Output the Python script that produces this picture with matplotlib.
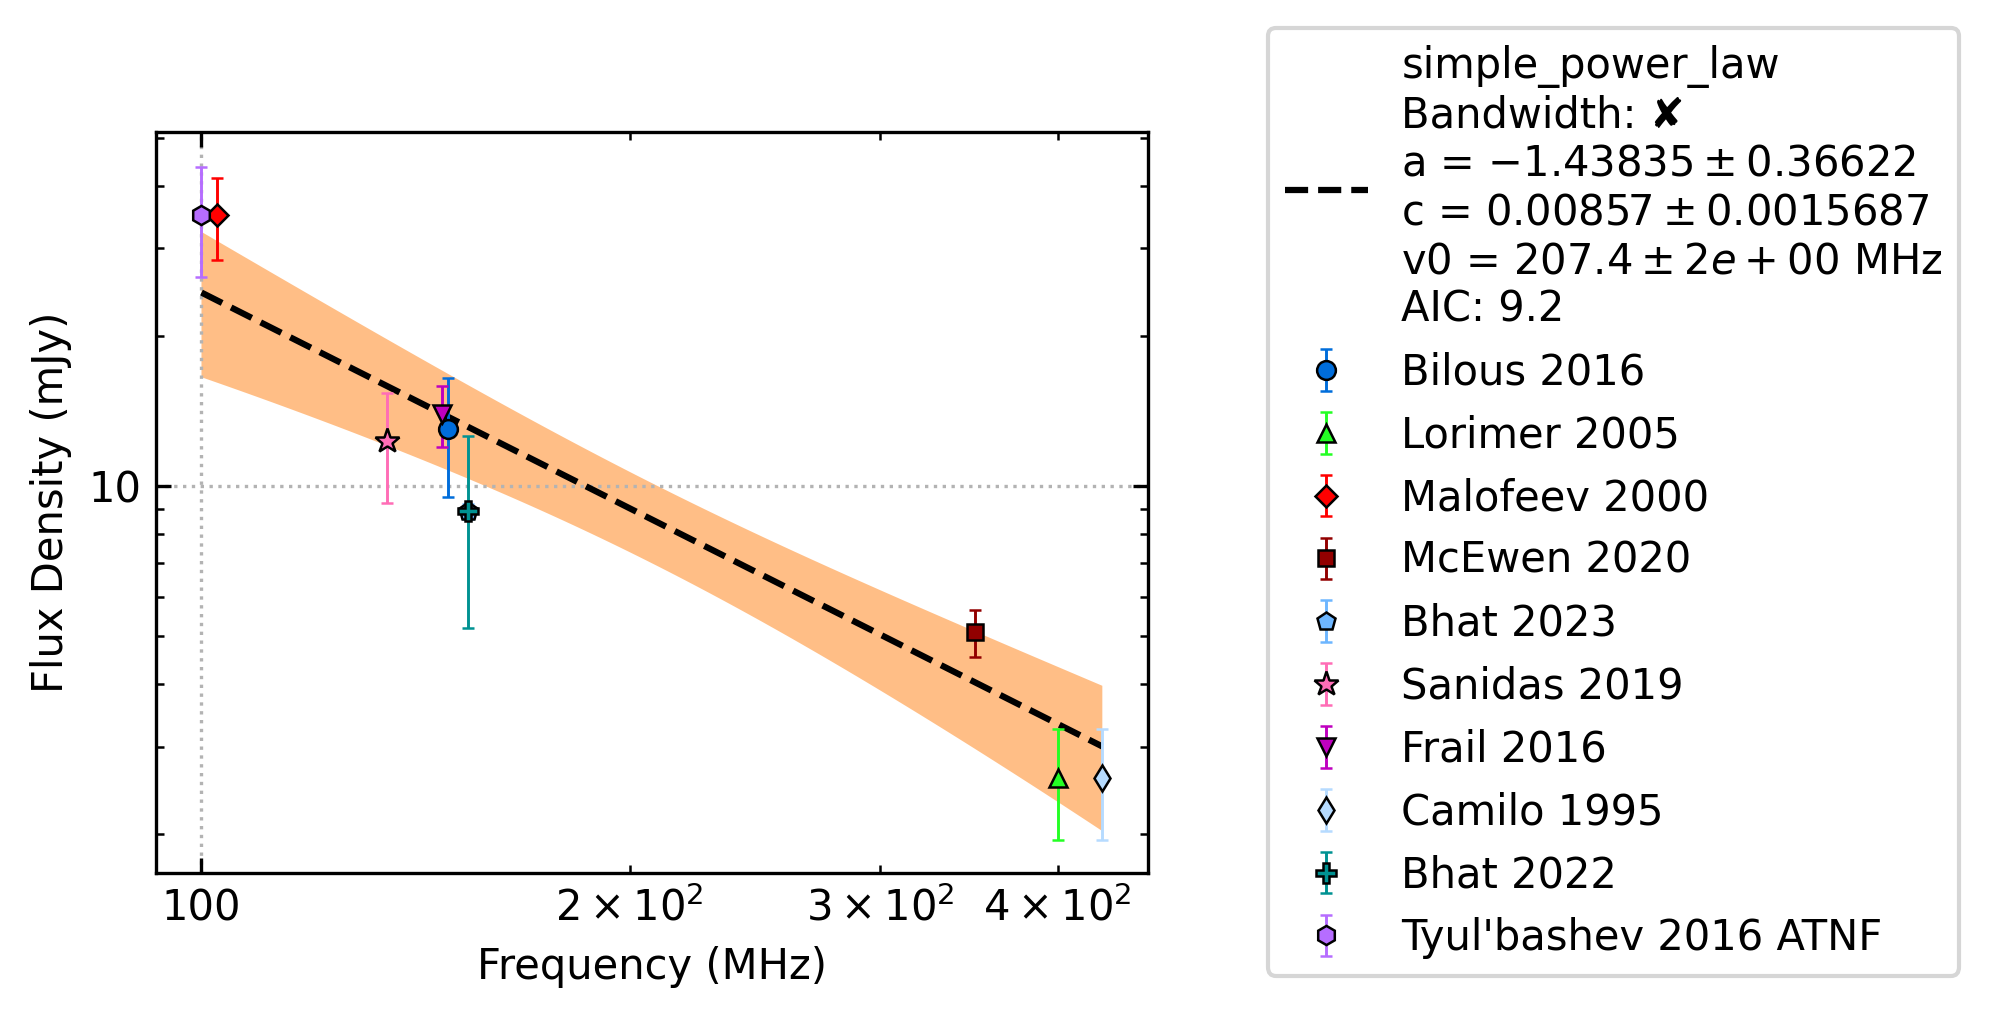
import numpy as np
import matplotlib
matplotlib.use("Agg")
import matplotlib.pyplot as plt
from matplotlib.ticker import FormatStrFormatter

# fit parameters shown in the legend (c in Jy, v0 in MHz)
fit_a, fit_a_err = -1.43835, 0.36622
fit_c, fit_c_err = 0.00857, 0.0015687
fit_v0 = 207.4
fit_aic = 9.2

# measurements
labels = ["Bilous 2016", "Lorimer 2005", "Malofeev 2000", "McEwen 2020", "Bhat 2023",
          "Sanidas 2019", "Frail 2016", "Camilo 1995", "Bhat 2022", "Tyul'bashev 2016 ATNF"]
freqs = [149.0, 400.0, 102.5, 350.0, 154.0, 135.0, 147.5, 430.0, 154.0, 100.0]
fluxes = [13.0, 2.6, 35.0, 5.1, 8.9, 12.3, 13.95, 2.6, 8.9, 35.0]
flux_errs = [3.5, 0.65, 6.5, 0.55, 0.3, 3.05, 1.95, 0.65, 3.7, 8.7]
markers = ["o", "^", "D", "s", "p", "*", "v", "d", "P", "h"]
marker_sizes = [4.5, 4.5, 3.7, 3.9, 4.5, 6.2, 4.5, 4.5, 5.0, 4.6]
colours = ["#006ddb", "#24ff24", "r", "#920000", "#6db6ff",
           "#ff6db6", "m", "#b6dbff", "#009292", "#b66dff"]

fig = plt.figure(figsize=(1989 / 300, 1018 / 300), dpi=300)
ax = fig.add_axes([156 / 1989, 145 / 1018, 992 / 1989, 741 / 1018])

# model line and 1-sigma band over the fitted frequency range
fit_freq = np.logspace(np.log10(min(freqs)), np.log10(max(freqs)), 100)
ratio = fit_freq / fit_v0
fit_flux = fit_c * ratio ** fit_a * 1e3
fit_sigma = np.sqrt((fit_c_err * ratio ** fit_a) ** 2
                    + (fit_flux / 1e3 * np.log(ratio) * fit_a_err) ** 2) * 1e3

fit_label = ("simple_power_law\nBandwidth: \u2718\n"
             f"a = ${fit_a:.5f} \\pm {fit_a_err:.5f}$\n"
             f"c = ${fit_c:.5f} \\pm {fit_c_err:.7f}$\n"
             f"v0 = ${fit_v0:.1f} \\pm 2e+00$ MHz\n"
             f"AIC: {fit_aic:.1f}")
ax.plot(fit_freq, fit_flux, "k--", lw=1.5, label=fit_label)
ax.fill_between(fit_freq, fit_flux - fit_sigma, fit_flux + fit_sigma,
                facecolor="C1", alpha=0.5, lw=0)

for lab, f, s, e, m, ms, col in zip(labels, freqs, fluxes, flux_errs, markers,
                                    marker_sizes, colours):
    ax.errorbar(f, s, yerr=e, linestyle="None", marker=m, color=col, mec="k",
                markersize=ms, markeredgewidth=0.6, elinewidth=0.7, capthick=0.7,
                capsize=1.4, label=lab)

ax.set_xscale("log")
ax.set_yscale("log")
ax.set_xlim(92.9, 463)
ax.set_ylim(1.673, 51.4)
ax.xaxis.set_major_formatter(FormatStrFormatter("%g"))
ax.yaxis.set_major_formatter(FormatStrFormatter("%g"))
ax.tick_params(which="both", direction="in", top=True, right=True)
ax.grid(True, which="major", ls=":", color="0.7", lw=0.8)
ax.set_xlabel("Frequency (MHz)")
ax.set_ylabel("Flux Density (mJy)")

fig.legend(loc="upper left", bbox_to_anchor=(1268 / 1989, 1 - 28 / 1018),
           borderaxespad=0)

fig.savefig("out.png", dpi=300)
